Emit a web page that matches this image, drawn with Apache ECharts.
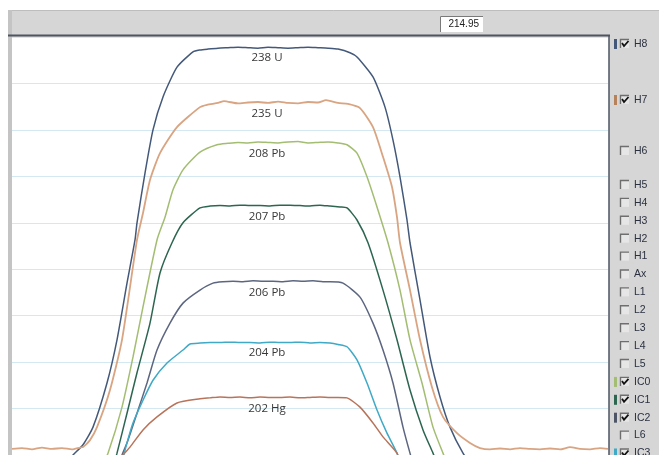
<!DOCTYPE html>
<html>
<head>
<meta charset="utf-8">
<script src="https://cdn.jsdelivr.net/npm/echarts@6/dist/echarts.min.js"></script>
<style>
  html, body { margin: 0; padding: 0; background: #fff; }
  #chart { width: 659px; height: 455px; }
</style>
</head>
<body>
<div id="chart"></div>
<script>
// peak scan traces, [scan position, intensity]
const u238 = [
  [52, -0.32], [65, 0], [75, 0.22], [85, 0.60], [99, 1.55], [109, 2.48], [119, 3.70], [127, 4.63], [129, 5.00],
  [137, 6.07], [145, 7.00], [155, 7.71], [169, 8.35], [185, 8.68], [192, 8.72],
  [200, 8.74], [210, 8.76], [220, 8.77], [230, 8.78], [240, 8.77], [250, 8.76], [260, 8.78], [270, 8.77],
  [280, 8.76], [290, 8.77], [300, 8.78], [310, 8.77], [320, 8.76], [330, 8.74],
  [342, 8.66], [349, 8.57], [365, 8.14], [377, 7.49], [385, 6.78], [392, 5.99], [399, 5.06], [402, 4.57],
  [412, 3.34], [422, 2.11], [432, 1.25], [442, 0.60], [455, 0.04], [467, -0.32]
];
const u235 = [
  [4, 0.13], [14, 0.15], [24, 0.12], [34, 0.16], [44, 0.13], [54, 0.15], [64, 0.12], [72, 0.16], [75, 0.17],
  [82, 0.32], [89, 0.60], [102, 1.40], [114, 2.48], [129, 4.63], [135, 5.21], [142, 5.92], [152, 6.50],
  [169, 7.06], [192, 7.49],
  [199, 7.54], [210, 7.58], [216, 7.62], [230, 7.57], [240, 7.59], [250, 7.60], [260, 7.58], [270, 7.61],
  [280, 7.58], [290, 7.57], [300, 7.60], [310, 7.59], [318, 7.64], [330, 7.58], [340, 7.56], [352, 7.47],
  [365, 7.06], [375, 6.42], [384, 5.77], [389, 5.12], [392, 4.57], [402, 3.55], [412, 2.48], [424, 1.46],
  [435, 0.82], [449, 0.47], [462, 0.26], [472, 0.15],
  [482, 0.12], [492, 0.14], [502, 0.12], [512, 0.15], [522, 0.13], [532, 0.12], [542, 0.14], [552, 0.12],
  [562, 0.17], [572, 0.13], [582, 0.12], [592, 0.15], [600, 0.13]
];
const pb208 = [
  [92, -0.32], [100, 0.04], [114, 1.03], [125, 2.11], [135, 3.19], [149, 4.63], [157, 5.12], [165, 5.71],
  [175, 6.14], [192, 6.52], [209, 6.68],
  [220, 6.71], [230, 6.73], [240, 6.72], [250, 6.74], [260, 6.73], [270, 6.72], [280, 6.74], [290, 6.75],
  [300, 6.72], [310, 6.73], [320, 6.74], [330, 6.72], [339, 6.68],
  [349, 6.50], [359, 5.99], [369, 5.34], [380, 4.57], [392, 3.55], [402, 2.48], [414, 1.55], [425, 0.60],
  [435, 0.04], [442, -0.32]
];
const pb207 = [
  [104, -0.32], [109, 0.04], [119, 0.90], [129, 1.77], [142, 2.84], [152, 3.92], [164, 4.57], [175, 5.00],
  [192, 5.32], [202, 5.36],
  [212, 5.37], [222, 5.36], [232, 5.38], [242, 5.37], [252, 5.37], [262, 5.36], [272, 5.38], [282, 5.38],
  [292, 5.37], [302, 5.36], [312, 5.38], [322, 5.36], [332, 5.34], [339, 5.32],
  [349, 5.06], [360, 4.57], [375, 3.55], [389, 2.48], [402, 1.40], [415, 0.54], [425, 0.04], [432, -0.32]
];
const pb206 = [
  [108, -0.32], [114, 0], [120, 0.32], [129, 0.90], [139, 1.55], [149, 2.26], [162, 2.84], [175, 3.27],
  [192, 3.55], [205, 3.70],
  [215, 3.73], [225, 3.74], [235, 3.73], [245, 3.75], [255, 3.74], [265, 3.74], [275, 3.73], [285, 3.75],
  [295, 3.74], [305, 3.75], [315, 3.73], [322, 3.73], [335, 3.70],
  [352, 3.40], [365, 2.84], [375, 2.26], [385, 1.55], [395, 0.60], [402, 0.04], [407, -0.32]
];
const pb204 = [
  [112, -0.32], [119, 0.26], [125, 0.69], [135, 1.18], [145, 1.61], [159, 1.98], [175, 2.26], [182, 2.39],
  [192, 2.41],
  [202, 2.42], [212, 2.42], [222, 2.43], [232, 2.42], [242, 2.42], [252, 2.41], [262, 2.43], [272, 2.42],
  [282, 2.42], [292, 2.43], [302, 2.41], [312, 2.42], [322, 2.41], [330, 2.38], [339, 2.33],
  [349, 2.05], [359, 1.55], [369, 0.97], [379, 0.47], [389, 0.04], [394, -0.32]
];
const hg202 = [
  [107, -0.32], [115, 0], [122, 0.17], [135, 0.54], [149, 0.82], [169, 1.12], [192, 1.21],
  [202, 1.23], [212, 1.25], [222, 1.24], [232, 1.25], [242, 1.23], [252, 1.25], [262, 1.24], [272, 1.24],
  [282, 1.25], [292, 1.23], [302, 1.24], [312, 1.25], [322, 1.24], [330, 1.24], [339, 1.23],
  [352, 1.03], [365, 0.69], [375, 0.39], [389, 0.04], [394, -0.32]
];

const isotopes = ['238 U', '235 U', '208 Pb', '207 Pb', '206 Pb', '204 Pb', '202 Hg'];
const traces = [u238, u235, pb208, pb207, pb206, pb204, hg202];

const channels = ['H8', 'H7', 'H6', 'H5', 'H4', 'H3', 'H2', 'H1', 'Ax', 'L1', 'L2', 'L3', 'L4', 'L5',
  'IC0', 'IC1', 'IC2', 'L6', 'IC3'];
const activeChannels = ['H8', 'H7', 'IC0', 'IC1', 'IC2', 'IC3'];
const massReading = '214.95';

const lineColors = ['#44597a', '#d9a481', '#a3bd72', '#2d6650', '#5c6680', '#3fa9c6', '#b8745a'];
const channelColor = { H8: '#44597a', H7: '#b5825c', IC0: '#a3bd72', IC1: '#2d6650', IC2: '#4d5566', IC3: '#3fa9c6' };

const labelX = 259;

const chart = echarts.init(document.getElementById('chart'));

const series = traces.map((d, i) => {
  let near = d[0];
  d.forEach(p => { if (Math.abs(p[0] - labelX) < Math.abs(near[0] - labelX)) near = p; });
  return {
    name: isotopes[i],
    type: 'line',
    data: d,
    smooth: 0.2,
    symbol: 'none',
    clip: true,
    lineStyle: { color: lineColors[i], width: i === 1 ? 1.8 : 1.5 },
    markPoint: {
      symbol: 'circle',
      symbolSize: 1,
      itemStyle: { color: 'rgba(0,0,0,0)' },
      label: {
        show: true,
        position: 'inside',
        offset: [0, 11],
        formatter: isotopes[i],
        color: '#383838',
        fontFamily: 'Open Sans',
        fontSize: 11.5
      },
      data: [{ coord: [labelX, near[1]] }]
    }
  };
});

// right-hand channel panel
const rowY = channels.map((c, i) => i < 3 ? [44, 100, 151][i] : 185 + (i - 3) * 17.9);
const panel = [];
channels.forEach((c, i) => {
  const y = rowY[i];
  const bx = 620, by = y - 5;
  const on = activeChannels.includes(c);
  if (on) {
    panel.push({ type: 'rect', shape: { x: 614, y: by, width: 3, height: 10 }, style: { fill: channelColor[c] } });
  }
  panel.push({ type: 'rect', shape: { x: bx, y: by, width: 9, height: 9 }, style: { fill: '#e6e6e6' } });
  panel.push({ type: 'polyline', shape: { points: [[bx + 0.5, by + 9], [bx + 0.5, by + 0.5], [bx + 9, by + 0.5]] },
    style: { stroke: '#6e6e6e', lineWidth: 1.4, fill: null } });
  if (on) {
    panel.push({ type: 'polyline', shape: { points: [[bx + 2, by + 4], [bx + 4, by + 7], [bx + 8.5, by + 2]] },
      style: { stroke: '#111', lineWidth: 1.8, fill: null } });
  }
  panel.push({ type: 'text', x: 634, y: y, style: { text: c, fill: '#2b3140', font: '10.5px "Liberation Sans"',
    verticalAlign: 'middle', textVerticalAlign: 'middle' } });
});

const option = {
  backgroundColor: '#ffffff',
  animation: false,
  grid: { left: 12, right: 51, top: 37, bottom: 0 },
  xAxis: { type: 'value', min: 4, max: 600, show: false },
  yAxis: {
    type: 'value', min: 0, max: 9, interval: 1,
    axisLine: { show: false }, axisTick: { show: false }, axisLabel: { show: false },
    splitLine: { lineStyle: { color: '#d3e8f1', width: 1 } }
  },
  graphic: [
    { type: 'rect', z: -1, shape: { x: 8, y: 10, width: 651, height: 27 }, style: { fill: '#d6d6d6' } },
    { type: 'line', shape: { x1: 8, y1: 10.5, x2: 659, y2: 10.5 }, style: { stroke: '#bdbdbd', lineWidth: 1 } },
    { type: 'rect', shape: { x: 8, y: 10, width: 4, height: 445 }, style: { fill: '#c4c4c4' } },
    { type: 'rect', shape: { x: 609, y: 37, width: 50, height: 418 }, style: { fill: '#d6d6d6' } },
    { type: 'line', shape: { x1: 8, y1: 35.5, x2: 610, y2: 35.5 }, style: { stroke: '#4c5560', lineWidth: 2 } },
    { type: 'line', shape: { x1: 12, y1: 37.5, x2: 608, y2: 37.5 }, style: { stroke: '#f2d2c4', lineWidth: 1 } },
    { type: 'line', shape: { x1: 609, y1: 35, x2: 609, y2: 455 }, style: { stroke: '#4c5560', lineWidth: 1.5 } },
    { type: 'rect', shape: { x: 440, y: 16, width: 43, height: 16 }, style: { fill: '#ffffff' } },
    { type: 'polyline', shape: { points: [[440.5, 32], [440.5, 16.5], [483, 16.5]] }, style: { stroke: '#7a7a7a', lineWidth: 1, fill: null } },
    { type: 'text', x: 479, y: 24, style: { text: massReading, fill: '#222', font: '10px "Liberation Sans"',
      align: 'right', textAlign: 'right', verticalAlign: 'middle', textVerticalAlign: 'middle' } }
  ].concat(panel),
  series: series
};

chart.setOption(option);
window.addEventListener('resize', () => chart.resize());
</script>
</body>
</html>
